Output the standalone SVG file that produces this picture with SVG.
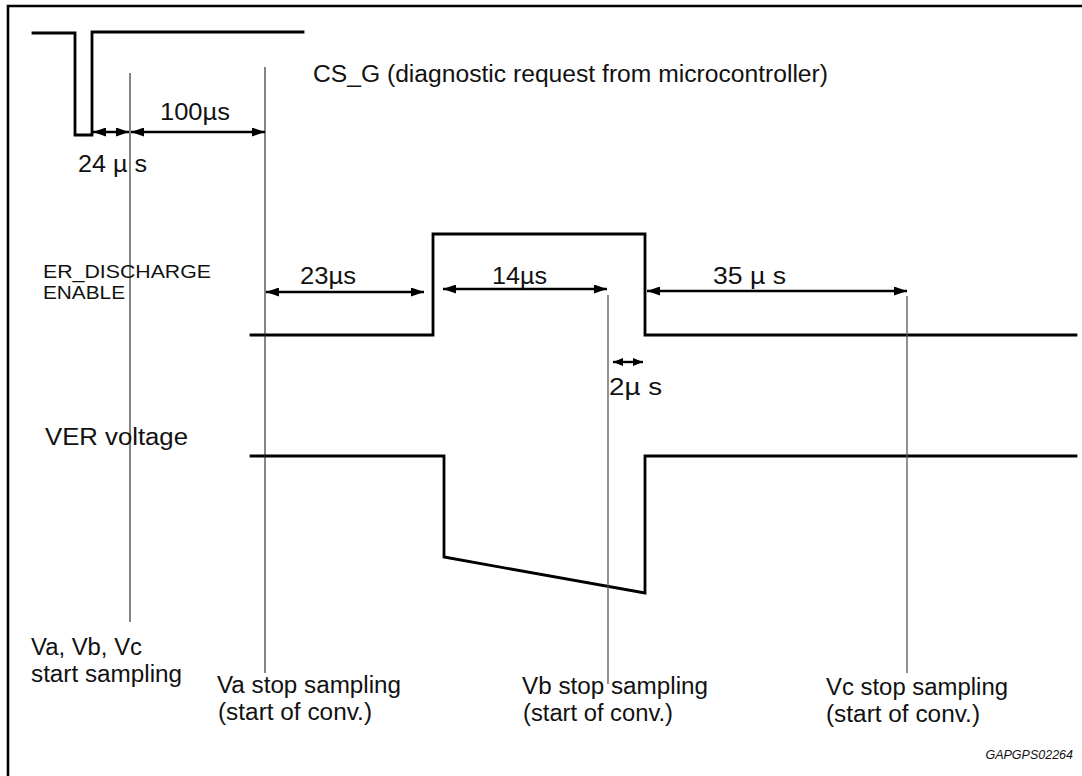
<svg xmlns="http://www.w3.org/2000/svg" width="1082" height="776" viewBox="0 0 1082 776">
<style>
.bg{fill:#ffffff}
.frame{fill:none;stroke:#000;stroke-width:2.6}
.wave{fill:none;stroke:#000;stroke-width:2.8;stroke-linejoin:miter;stroke-linecap:square}
.guide{fill:none;stroke:#222;stroke-width:1.1}
.guide2{fill:none;stroke:#555;stroke-width:1.3}
.dim{fill:none;stroke:#000;stroke-width:2.4}
.t{font-family:"Liberation Sans",Arial,sans-serif;font-size:23.5px;fill:#111}
.ts{font-family:"Liberation Sans",Arial,sans-serif;font-size:18px;fill:#111}
.code{font-family:"Liberation Sans",Arial,sans-serif;font-size:12.5px;font-style:italic;fill:#111}
</style>
<defs>
<marker id="ah" viewBox="0 0 13 9" refX="13" refY="4.5" markerWidth="13" markerHeight="9" markerUnits="userSpaceOnUse" orient="auto-start-reverse">
<path d="M0,0 L13,4.5 L0,9 z" fill="#000"/>
</marker>
<marker id="ahs" viewBox="0 0 10 8" refX="10" refY="4" markerWidth="10" markerHeight="8" markerUnits="userSpaceOnUse" orient="auto-start-reverse">
<path d="M0,0 L10,4 L0,8 z" fill="#000"/>
</marker>
</defs>
<rect class="bg" x="0" y="0" width="1082" height="776"/>
<g id="frame">
<polyline class="frame" points="8,776 8,6 1082,6"/>
</g>
<g id="cs-g-signal">
<polyline class="wave" points="33,33 75,33 75,135 92,135 92,32 303,32"/>
<text class="t" x="313" y="82" textLength="515" lengthAdjust="spacingAndGlyphs">CS_G (diagnostic request from microcontroller)</text>
</g>
<g id="er-discharge-signal">
<polyline class="wave" points="251,335 433,335 433,234 645,234 645,335 1076,335"/>
<text class="ts" x="43" y="278" textLength="168" lengthAdjust="spacingAndGlyphs">ER_DISCHARGE</text>
<text class="ts" x="43" y="299" textLength="82" lengthAdjust="spacingAndGlyphs">ENABLE</text>
</g>
<g id="ver-signal">
<polyline class="wave" points="251,456 444,456 444,557 645,593 645,456 1076,456"/>
<text class="t" x="45" y="445" textLength="143" lengthAdjust="spacingAndGlyphs">VER voltage</text>
</g>
<g id="connectors">
<line class="guide" x1="130" y1="73" x2="130" y2="622"/>
<line class="guide" x1="265" y1="67" x2="265" y2="673"/>
<line class="guide2" x1="608" y1="295" x2="608" y2="684"/>
<line class="guide2" x1="907" y1="296" x2="907" y2="673"/>
<line class="dim" x1="93" y1="132" x2="129" y2="132" marker-start="url(#ah)" marker-end="url(#ah)"/>
<line class="dim" x1="131" y1="132" x2="265" y2="132" marker-start="url(#ah)" marker-end="url(#ah)"/>
<line class="dim" x1="266" y1="292" x2="424" y2="292" marker-start="url(#ah)" marker-end="url(#ah)"/>
<line class="dim" x1="443" y1="289" x2="607" y2="289" marker-start="url(#ah)" marker-end="url(#ah)"/>
<line class="dim" x1="647" y1="291" x2="907" y2="291" marker-start="url(#ah)" marker-end="url(#ah)"/>
<line class="dim" x1="613" y1="362" x2="643" y2="362" marker-start="url(#ahs)" marker-end="url(#ahs)"/>
</g>
<g id="labels">
<text class="t" x="160" y="120" textLength="70" lengthAdjust="spacingAndGlyphs">100µs</text>
<text class="t" x="78" y="172" textLength="69" lengthAdjust="spacingAndGlyphs">24 µ s</text>
<text class="t" x="300" y="284" textLength="56" lengthAdjust="spacingAndGlyphs">23µs</text>
<text class="t" x="492" y="284" textLength="55" lengthAdjust="spacingAndGlyphs">14µs</text>
<text class="t" x="713" y="284" textLength="73" lengthAdjust="spacingAndGlyphs">35 µ s</text>
<text class="t" x="609" y="395" textLength="53" lengthAdjust="spacingAndGlyphs">2µ s</text>
</g>
<g id="va-vb-vc-start">
<text class="t" x="31" y="655" textLength="111" lengthAdjust="spacingAndGlyphs">Va, Vb, Vc</text>
<text class="t" x="31" y="682" textLength="151" lengthAdjust="spacingAndGlyphs">start sampling</text>
</g>
<g id="va-stop">
<text class="t" x="217" y="693" textLength="184" lengthAdjust="spacingAndGlyphs">Va stop sampling</text>
<text class="t" x="218" y="720" textLength="154" lengthAdjust="spacingAndGlyphs">(start of conv.)</text>
</g>
<g id="vb-stop">
<text class="t" x="522" y="694" textLength="186" lengthAdjust="spacingAndGlyphs">Vb stop sampling</text>
<text class="t" x="523" y="721" textLength="150" lengthAdjust="spacingAndGlyphs">(start of conv.)</text>
</g>
<g id="vc-stop">
<text class="t" x="826" y="695" textLength="182" lengthAdjust="spacingAndGlyphs">Vc stop sampling</text>
<text class="t" x="826" y="722" textLength="154" lengthAdjust="spacingAndGlyphs">(start of conv.)</text>
</g>
<g id="figure-code">
<text class="code" x="1073" y="759" text-anchor="end">GAPGPS02264</text>
</g>
</svg>
